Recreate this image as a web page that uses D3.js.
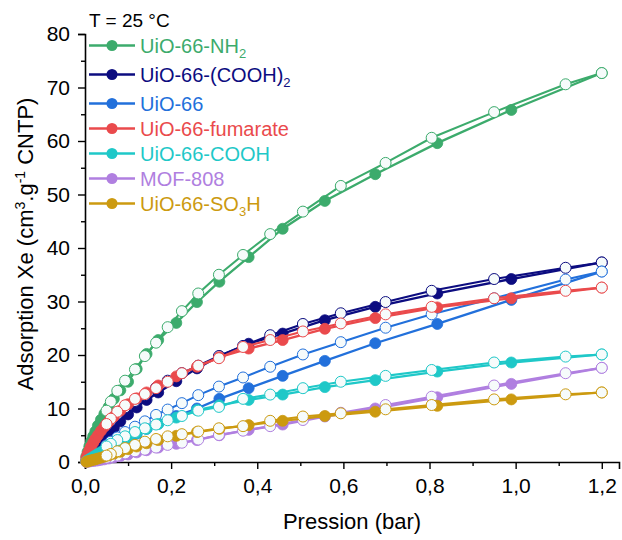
<!DOCTYPE html>
<html><head><meta charset="utf-8">
<script src="https://cdn.jsdelivr.net/npm/d3@7"></script>
<style>
html,body{margin:0;padding:0;background:#fff;}
svg{display:block;font-family:"Liberation Sans",Arial,sans-serif;}
</style></head>
<body><svg id="chart" width="622" height="540"></svg>
<script>
// ---- data ----
const seriesNames = ["UiO-66-NH|2", "UiO-66-(COOH)|2", "UiO-66", "UiO-66-fumarate", "UiO-66-COOH", "MOF-808", "UiO-66-SO|3|H"];
const seriesColors = ["#3cab6c", "#0c0c80", "#2270db", "#ea4a4c", "#1fc8c8", "#b07fe0", "#cc9a10"];
const xTicks = [0, 0.2, 0.4, 0.6, 0.8, 1.0, 1.2];
const yTicks = [0, 10, 20, 30, 40, 50, 60, 70, 80];

// adsorption pressures (bar)
const adsP = [0.003, 0.006, 0.01, 0.014, 0.019, 0.024, 0.03, 0.037, 0.045, 0.055, 0.067, 0.082, 0.1, 0.12, 0.143, 0.17, 0.212, 0.26, 0.312, 0.38, 0.459, 0.557, 0.674, 0.818, 0.99, 1.2];
// desorption pressures (bar)
const desP = [1.2, 1.116, 0.95, 0.805, 0.698, 0.594, 0.506, 0.43, 0.367, 0.311, 0.263, 0.225, 0.192, 0.165, 0.139, 0.116, 0.093, 0.075, 0.06, 0.05];

const adsNH2 = [1.0, 1.9, 2.9, 3.8, 4.8, 5.7, 6.8, 7.9, 9.0, 10.3, 11.8, 13.4, 15.0, 17.4, 20.2, 22.8, 26.0, 29.9, 33.7, 38.3, 43.6, 48.8, 53.8, 59.6, 65.8, 72.7];
const desNH2 = [72.7, 70.6, 65.4, 60.6, 55.9, 51.6, 46.8, 42.6, 38.7, 35.0, 31.5, 28.2, 25.2, 22.3, 19.8, 17.3, 15.2, 13.3, 11.3, 9.6];

const adsCOOH2 = [0.2, 0.4, 0.7, 1.0, 1.4, 1.9, 2.5, 3.3, 4.3, 5.3, 6.4, 7.6, 8.9, 10.2, 11.6, 13.0, 15.1, 17.5, 19.8, 22.1, 24.0, 26.5, 29.0, 31.5, 34.2, 37.3];
const desCOOH2 = [37.3, 36.3, 34.2, 32.0, 29.9, 27.8, 25.8, 23.7, 21.7, 19.8, 18.0, 16.6, 15.2, 13.9, 12.5, 11.4, 10.2, 9.0, 7.8, 7.0];

const adsUiO66 = [0.1, 0.25, 0.4, 0.6, 0.8, 1.0, 1.3, 1.6, 2.0, 2.5, 3.0, 3.7, 4.5, 5.3, 6.2, 7.2, 8.6, 10.0, 11.8, 13.8, 16.1, 18.9, 22.2, 25.8, 30.3, 35.6];
const desUiO66 = [35.6, 34.1, 30.6, 27.6, 25.1, 22.4, 20.1, 17.8, 15.8, 14.1, 12.5, 11.0, 9.8, 8.8, 7.6, 6.6, 5.6, 4.6, 3.8, 3.1];

const adsFum = [0.8, 1.5, 2.2, 2.9, 3.6, 4.3, 5.0, 5.8, 6.6, 7.5, 8.5, 9.6, 10.8, 11.9, 13.0, 14.3, 16.0, 17.8, 19.6, 21.2, 22.8, 24.9, 26.9, 28.9, 30.6, 32.6];
const desFum = [32.6, 32.0, 30.6, 29.0, 27.6, 25.9, 24.4, 22.8, 21.5, 19.4, 18.0, 16.6, 15.0, 13.8, 12.7, 11.8, 10.6, 9.4, 8.1, 7.1];

const adsCOOH = [0.15, 0.3, 0.5, 0.7, 0.95, 1.2, 1.5, 1.85, 2.25, 2.7, 3.2, 3.9, 4.6, 5.4, 6.2, 7.1, 8.3, 9.7, 10.6, 11.6, 12.6, 14.0, 15.3, 16.9, 18.6, 20.1];
const desCOOH = [20.1, 19.7, 18.6, 17.2, 16.1, 15.0, 13.8, 12.6, 11.8, 10.3, 9.6, 8.6, 7.8, 7.0, 6.3, 5.6, 4.8, 4.1, 3.4, 2.9];

const adsMOF = [0.02, 0.05, 0.1, 0.15, 0.2, 0.25, 0.3, 0.4, 0.5, 0.65, 0.85, 1.1, 1.4, 1.8, 2.2, 2.7, 3.4, 4.1, 5.0, 6.0, 7.0, 8.5, 10.0, 12.1, 14.6, 17.6];
const desMOF = [17.6, 16.6, 14.3, 12.2, 10.65, 9.2, 7.85, 6.7, 5.85, 5.05, 4.2, 3.6, 3.2, 2.7, 2.3, 2.0, 1.6, 1.2, 0.95, 0.8];

const adsSO3H = [0.05, 0.1, 0.2, 0.3, 0.4, 0.5, 0.65, 0.8, 1.0, 1.25, 1.55, 1.9, 2.4, 2.9, 3.5, 4.1, 4.9, 5.6, 6.2, 6.9, 7.7, 8.6, 9.4, 10.5, 11.7, 13.0];
const desSO3H = [13.0, 12.65, 11.7, 10.65, 9.85, 9.1, 8.5, 7.7, 6.7, 6.3, 5.7, 5.2, 4.8, 4.3, 3.8, 3.2, 2.6, 2.0, 1.5, 1.2];

const adsValues = [adsNH2, adsCOOH2, adsUiO66, adsFum, adsCOOH, adsMOF, adsSO3H];
const desValues = [desNH2, desCOOH2, desUiO66, desFum, desCOOH, desMOF, desSO3H];

// ---- chart ----
const svg = d3.select("#chart");
const x = d3.scaleLinear().domain([0, 1.24]).range([85, 619]);
const y = d3.scaleLinear().domain([0, 80]).range([462, 34]);
const fmt = d => d3.format(".1f")(d).replace(".", ",");

// axes
svg.append("g").attr("transform", "translate(0,462)")
  .call(d3.axisBottom(x).tickValues(xTicks).tickFormat(fmt).tickSize(7).tickPadding(9));
svg.append("g").attr("transform", "translate(0,462)")
  .call(d3.axisBottom(x).tickValues([0.1,0.3,0.5,0.7,0.9,1.1]).tickFormat("").tickSize(4))
  .select(".domain").remove();
svg.append("g").attr("transform", "translate(85,0)")
  .call(d3.axisLeft(y).tickValues(yTicks).tickSize(7).tickPadding(8));
svg.append("g").attr("transform", "translate(85,0)")
  .call(d3.axisLeft(y).tickValues([5,15,25,35,45,55,65,75]).tickFormat("").tickSize(4))
  .select(".domain").remove();
svg.selectAll(".domain").attr("stroke", "#000").attr("stroke-width", 1.6);
svg.selectAll(".tick line").attr("stroke", "#000").attr("stroke-width", 1.4);
svg.selectAll(".tick text").attr("fill", "#000").style("font-size", "21px")
  .style("font-family", "'Liberation Sans', Arial, sans-serif");

// titles
svg.append("text").attr("x", 352).attr("y", 529).attr("text-anchor", "middle")
  .style("font-size", "22px").text("Pression (bar)");
const yt = svg.append("text").attr("transform", "translate(33,244) rotate(-90)")
  .attr("text-anchor", "middle").style("font-size", "22px");
yt.append("tspan").text("Adsorption Xe (cm");
yt.append("tspan").attr("dy", -8).style("font-size", "14px").text("3");
yt.append("tspan").attr("dy", 8).text(".g");
yt.append("tspan").attr("dy", -8).style("font-size", "14px").text("-1");
yt.append("tspan").attr("dy", 8).text(" CNTP)");

svg.append("text").attr("x", 89).attr("y", 27).style("font-size", "19px").text("T = 25 °C");

// series
const line = d3.line().x(d => x(d[0])).y(d => y(d[1]));
seriesNames.forEach((name, i) => {
  const col = seriesColors[i];
  const ads = adsP.map((p, j) => [p, adsValues[i][j]]);
  const des = desP.map((p, j) => [p, desValues[i][j]]);
  const g = svg.append("g");
  g.append("path").attr("d", line(ads)).attr("fill", "none").attr("stroke", col).attr("stroke-width", 2.3);
  g.selectAll(".a").data(ads).join("circle").attr("cx", d => x(d[0])).attr("cy", d => y(d[1]))
    .attr("r", 5.5).attr("fill", col).attr("stroke", col).attr("stroke-width", 0.8);
  g.append("path").attr("d", line(des)).attr("fill", "none").attr("stroke", col).attr("stroke-width", 2.1);
  g.selectAll(".d").data(des).join("circle").attr("cx", d => x(d[0])).attr("cy", d => y(d[1]))
    .attr("r", 5.5).attr("fill", "#f6fbfb").attr("stroke", col).attr("stroke-width", 1);
});

// legend
let ly = 45.5;
seriesNames.forEach((name, i) => {
  const col = seriesColors[i];
  const g = svg.append("g").attr("transform", `translate(0,${ly})`);
  g.append("line").attr("x1", 89).attr("x2", 135).attr("stroke", col).attr("stroke-width", 2.3);
  g.append("circle").attr("cx", 112).attr("r", 5.5).attr("fill", col);
  const t = g.append("text").attr("x", 140).attr("y", 7).attr("fill", col).style("font-size", "20px");
  const parts = name.split("|");
  parts.forEach((p, k) => {
    if (k % 2 === 1) t.append("tspan").attr("dy", 5).style("font-size", "13px").text(p);
    else t.append("tspan").attr("dy", k === 0 ? 0 : -5).text(p);
  });
  ly += parts.length > 1 ? 29 : 25;
});
</script></body></html>
